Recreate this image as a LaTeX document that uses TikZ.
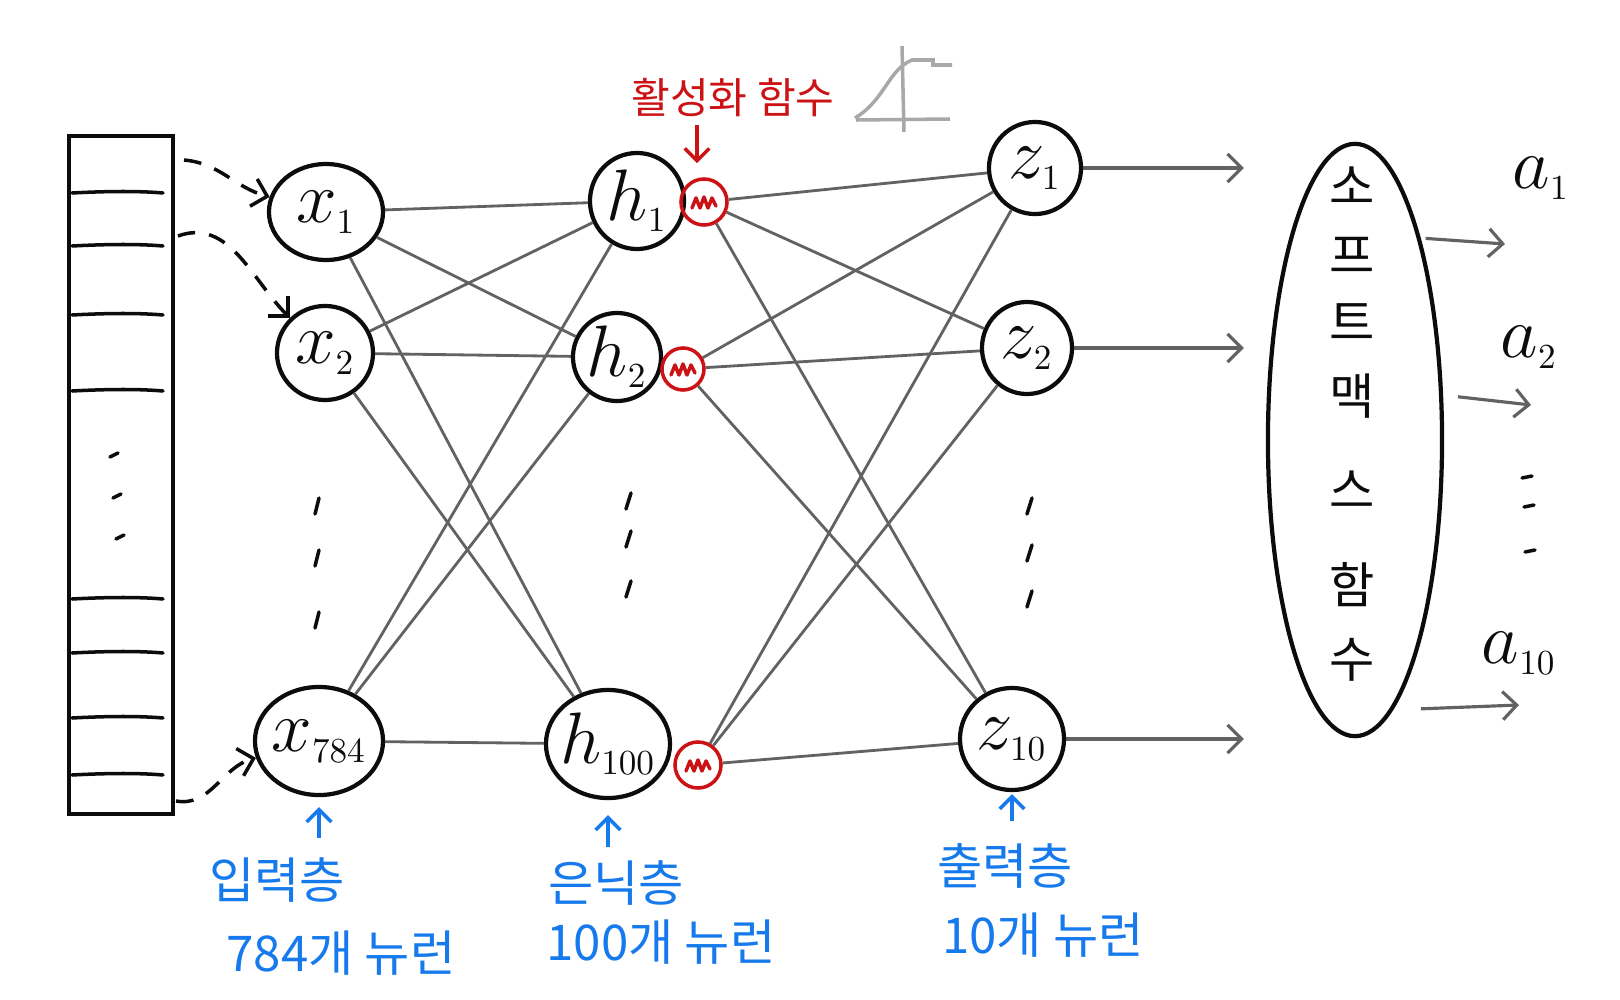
\documentclass[tikz,border=0pt]{standalone}
\usepackage{fontspec}
\setmainfont{Noto Sans CJK KR}
\usetikzlibrary{shapes.geometric,arrows.meta,positioning,calc}
\definecolor{inkclr}{RGB}{12,12,12}
\definecolor{wireclr}{RGB}{98,98,98}
\definecolor{actclr}{RGB}{205,18,22}
\definecolor{noteclr}{RGB}{22,122,236}
\definecolor{sketchclr}{RGB}{168,168,168}
\tikzset{
  neu/.style={ellipse,draw=inkclr,line width=1.2pt,inner sep=-3pt,
    font=\fontsize{20}{24}\selectfont,text=inkclr},
  actc/.style={circle,draw=actclr,line width=1pt,inner sep=0pt},
  wire/.style={draw=wireclr,line width=0.8pt},
  ink/.style={draw=inkclr,line width=1pt,line cap=round},
  garr/.style={-{Straight Barb[length=4pt,width=8pt]},draw=wireclr,line width=0.9pt},
  darr/.style={-{Straight Barb[length=4pt,width=8pt]},draw=inkclr,line width=1pt,
    dash pattern=on 5pt off 4pt},
  barr/.style={-{Straight Barb[length=3.5pt,width=7pt]},draw=noteclr,line width=1pt},
  rarr/.style={-{Straight Barb[length=3.5pt,width=7pt]},draw=actclr,line width=1pt},
  blbl/.style={text=noteclr,font=\fontsize{14}{16}\selectfont,inner sep=2pt},
  rlbl/.style={text=actclr,font=\fontsize{12}{14}\selectfont,inner sep=2pt},
  smtxt/.style={text=inkclr,font=\fontsize{14}{16}\selectfont,inner sep=0pt},
  albl/.style={text=inkclr,font=\fontsize{20}{24}\selectfont,inner sep=0pt},
}
\begin{document}
\begin{tikzpicture}[x=0.01cm,y=-0.01cm]
  \useasboundingbox (0,0) rectangle (1620,1000);

  %% Input strip
  \node[rectangle,draw=inkclr,line width=1.2pt,minimum width=1.04cm,
        minimum height=6.77cm,inner sep=0pt] (strip) at (121,475) {};
  \foreach \yy in {193,246,315,391,599,653,718,775}{
    \draw[ink] (72,\yy) .. controls (110,\yy-2) and (140,\yy-2) .. (163,\yy);
  }
  \foreach \px/\yy in {114/455,117/496,120/537}{
    \draw[ink] (\px-4,\yy+2) -- (\px+4,\yy-2);
  }

  %% Input layer
  \foreach \nm/\lbl/\px/\py/\w/\h in {x1/{$x_{\scriptscriptstyle 1}$}/326/212/1.14/0.96,
                                      x2/{$x_{\scriptscriptstyle 2}$}/325/353/0.96/0.94,
                                      x784/{$x_{\scriptscriptstyle 784}$}/319/741/1.28/1.08}{
    \node[neu,minimum width=\w cm,minimum height=\h cm] (\nm) at (\px,\py) {\lbl};
  }
  \foreach \yy in {506,558,620}{
    \draw[ink] (319,\yy-8) -- (315,\yy+8);
  }

  %% Hidden layer
  \foreach \nm/\lbl/\px/\py/\w/\h in {h1/{$h_{\scriptscriptstyle 1}$}/637/201/0.94/0.96,
                                      h2/{$h_{\scriptscriptstyle 2}$}/617/357/0.88/0.88,
                                      h100/{$h_{\scriptscriptstyle 100}$}/608/744/1.24/1.08}{
    \node[neu,minimum width=\w cm,minimum height=\h cm] (\nm) at (\px,\py) {\lbl};
  }
  \foreach \nm/\px/\py/\d in {act1/704/202/0.46,act2/683/369/0.42,act100/698/765/0.46}{
    \node[actc,minimum size=\d cm] (\nm) at (\px,\py) {};
    \draw[actclr,line width=1pt,line join=round,line cap=round]
      (\nm) ++(-12,6) -- ++(4,-10) -- ++(4,10) -- ++(4,-11) -- ++(4,11)
      -- ++(4,-10) -- ++(4,8);
  }
  \foreach \yy in {501,539,589}{
    \draw[ink] (631,\yy-8) -- (626,\yy+8);
  }

  %% Output layer
  \foreach \nm/\lbl/\px/\py/\w/\h in {z1/{$z_{\scriptscriptstyle 1}$}/1035/168/0.92/0.92,
                                      z2/{$z_{\scriptscriptstyle 2}$}/1027/348/0.90/0.92,
                                      z10/{$z_{\scriptscriptstyle 10}$}/1012/739/1.04/1.02}{
    \node[neu,minimum width=\w cm,minimum height=\h cm] (\nm) at (\px,\py) {\lbl};
  }
  \foreach \yy in {506,553,599}{
    \draw[ink] (1032,\yy-8) -- (1027,\yy+8);
  }

  %% Weights
  \foreach \s in {x1,x2,x784}{
    \foreach \t in {h1,h2,h100}{
      \draw[wire] (\s) -- (\t);
    }
  }
  \foreach \s in {act1,act2,act100}{
    \foreach \t in {z1,z2,z10}{
      \draw[wire] (\s) -- (\t);
    }
  }

  %% Strip to inputs
  \coordinate (s1) at (184,160);
  \coordinate (s2) at (178,236);
  \coordinate (s3) at (176,801);
  \draw[darr] (s1) to[out=-5,in=165] (x1);
  \draw[darr] (s2) to[out=20,in=135] (x2);
  \draw[darr] (s3) to[out=-10,in=195] (x784);

  %% Softmax
  \node[ellipse,draw=inkclr,line width=1.2pt,minimum width=1.74cm,
        minimum height=5.92cm,inner sep=0pt] (smax) at (1355,440) {};
  \foreach \ch/\yy in {소/186,프/255,트/322,맥/396,스/490,함/585,수/660}{
    \node[smtxt] (sm\yy) at (1352,\yy) {\ch};
  }
  \foreach \z in {z1,z2,z10}{
    \draw[garr,shorten >=0.22cm] (\z) -- (\z -| smax.west);
  }

  \coordinate (o1) at (1505,244);
  \coordinate (o2) at (1531,405);
  \coordinate (o10) at (1519,705);
  \draw[garr,shorten <=0.05cm] (smax.72) -- (o1);
  \draw[garr,shorten <=0.15cm] (smax.27) -- (o2);
  \draw[garr,shorten <=0.28cm] (smax.-82) -- (o10);
  \node[albl] (a1) at (1541,178) {$a_{\scriptscriptstyle 1}$};
  \node[albl] (a2) at (1529,347) {$a_{\scriptscriptstyle 2}$};
  \node[albl] (a10) at (1519,653) {$a_{\scriptscriptstyle 10}$};
  \foreach \px/\yy in {1527/477,1529/506,1530/551}{
    \draw[ink] (\px-5,\yy+1) -- (\px+5,\yy-1);
  }

  %% Activation note
  \node[rlbl] (lact) at (733,98) {활성화 함수};
  \draw[rarr,shorten >=0.14cm] (lact.south -| 697,0) -- (act1.north -| 697,0);
  \draw[draw=sketchclr,line width=1pt] (902,46) -- (904,132);
  \draw[draw=sketchclr,line width=1pt] (856,120) -- (950,119);
  \draw[draw=sketchclr,line width=1pt] (855,118) .. controls (885,100) and (888,70) .. (912,60)
    -- (933,60) -- (933,65) -- (952,65);

  %% Layer notes
  \node[blbl] (lin) at (277,880) {입력층};
  \node[blbl] (nin) at (341,953) {784개 뉴런};
  \node[blbl] (lhid) at (616,883) {은닉층};
  \node[blbl] (nhid) at (661,942) {100개 뉴런};
  \node[blbl] (lout) at (1005,866) {출력층};
  \node[blbl] (nout) at (1043,935) {10개 뉴런};
  \draw[barr,shorten <=0.12cm,shorten >=0.1cm] (lin.north -| x784.south) -- (x784.south);
  \draw[barr,shorten <=0.06cm,shorten >=0.15cm] (lhid.north -| h100.south) -- (h100.south);
  \draw[barr,shorten <=0.15cm,shorten >=0.02cm] (lout.north -| z10.south) -- (z10.south);

\end{tikzpicture}
\end{document}
